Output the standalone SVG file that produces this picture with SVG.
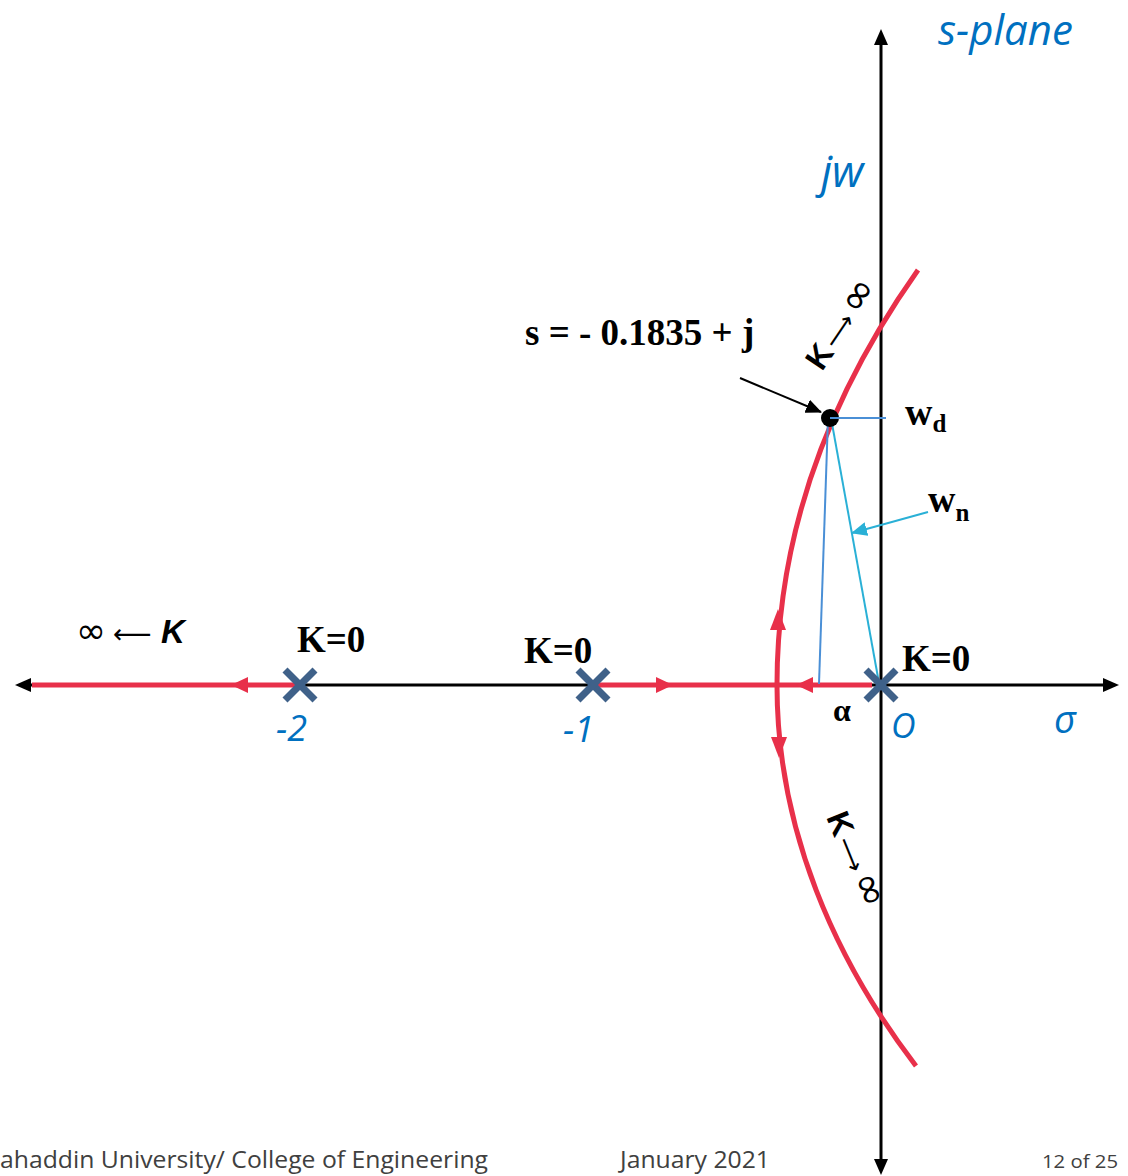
<svg xmlns="http://www.w3.org/2000/svg" width="1128" height="1176" viewBox="0 0 1128 1176">
<style>
.axis{stroke:#000;stroke-width:3;fill:none}
.locus{stroke:#e8304a;stroke-width:5;fill:none}
.rhead{fill:#e8304a}
.pole{stroke:#3f6189;stroke-width:7;stroke-linecap:butt}
.tnr{font-family:"Liberation Serif",serif;font-weight:bold;fill:#000}
.blue{font-family:"Open Sans","Noto Sans",sans-serif;font-style:italic;fill:#0070c0}
.foot{font-family:"Open Sans","Noto Sans",sans-serif;fill:#404040}
.sym{font-family:"DejaVu Sans",sans-serif;fill:#000}
.kb{font-family:"Liberation Sans",sans-serif;font-weight:bold}
.bl1{stroke:#4a8fd6;stroke-width:2;fill:none}
.bl2{stroke:#2ab0d6;stroke-width:2;fill:none}
</style>
<defs>
<marker id="ahBig" markerWidth="16" markerHeight="14" refX="15" refY="7" orient="auto" markerUnits="userSpaceOnUse" viewBox="0 0 16 14">
<path d="M0,0 L16,7 L0,14 z" fill="#000"/>
</marker>
<marker id="ahCyan" markerWidth="16" markerHeight="14" refX="15" refY="7" orient="auto" markerUnits="userSpaceOnUse" viewBox="0 0 16 14">
<path d="M0,0 L16,7 L0,14 z" fill="#2ab0d6"/>
</marker>
</defs>
<rect width="1128" height="1176" fill="#fff"/>
<g id="connectors">
<line class="axis" x1="30" y1="685" x2="1104" y2="685"/>
<polygon points="15,685 31,678 31,692" fill="#000"/>
<polygon points="1119,685 1103,678 1103,692" fill="#000"/>
<line class="axis" x1="881" y1="44" x2="881" y2="1160"/>
<polygon points="881,29 874,45 888,45" fill="#000"/>
<polygon points="881,1175 874,1159 888,1159" fill="#000"/>
<line class="locus" x1="32" y1="685" x2="300" y2="685"/>
<polygon class="rhead" points="231,685 248,677 248,693"/>
<line class="locus" x1="593" y1="685" x2="872" y2="685"/>
<polygon class="rhead" points="673,685 656,677 656,693"/>
<polygon class="rhead" points="796,685 813,677 813,693"/>
<path class="locus" d="M918,270 C840,380 777,520 777,685 C777,830 835,960 916,1066"/>
<polygon class="rhead" points="778,609 770,630 786,630"/>
<polygon class="rhead" points="779,758 771,737 787,737"/>
<line x1="740" y1="378" x2="821" y2="412" stroke="#000" stroke-width="2" marker-end="url(#ahBig)"/>
<line class="bl1" x1="830" y1="418" x2="886" y2="418"/>
<line class="bl1" x1="828" y1="418" x2="819" y2="684"/>
<line class="bl2" x1="831" y1="418" x2="879" y2="683"/>
<line class="bl2" x1="928" y1="512" x2="852" y2="533" marker-end="url(#ahCyan)"/>
</g>
<g id="pole-m2"><line class="pole" x1="285" y1="670" x2="315" y2="700"/><line class="pole" x1="315" y1="670" x2="285" y2="700"/></g>
<g id="pole-m1"><line class="pole" x1="578" y1="670" x2="608" y2="700"/><line class="pole" x1="608" y1="670" x2="578" y2="700"/></g>
<g id="pole-0"><line class="pole" x1="866" y1="670" x2="896" y2="700"/><line class="pole" x1="896" y1="670" x2="866" y2="700"/></g>
<g id="point-s"><circle cx="830" cy="418" r="9" fill="#000"/><line class="bl1" x1="830" y1="418" x2="845" y2="418"/></g>
<g id="labels">
<text class="blue" x="938" y="45" font-size="42">s-plane</text>
<text class="blue" x="821" y="187" font-size="44">jw</text>
<text class="blue" x="1054" y="733" font-size="38">σ</text>
<text class="blue" x="891" y="738" font-size="34">O</text>
<text class="blue" x="276" y="741" font-size="36">-2</text>
<text class="blue" x="563" y="742" font-size="36">-1</text>
<text class="tnr" x="297" y="652" font-size="37">K=0</text>
<text class="tnr" x="524" y="663" font-size="37">K=0</text>
<text class="tnr" x="902" y="671" font-size="37">K=0</text>
<text class="tnr" x="833" y="721" font-size="32">α</text>
<text class="tnr" x="525" y="345" font-size="37">s = - 0.1835 + j</text>
<text class="tnr" x="905" y="425" font-size="38">w<tspan font-size="25" dy="7">d</tspan></text>
<text class="tnr" x="928" y="512" font-size="38">w<tspan font-size="25" dy="9">n</tspan></text>
<text class="sym" y="643"><tspan x="76" font-size="36">∞</tspan><tspan x="113" font-size="27">⟵</tspan><tspan class="kb" x="161" font-style="italic" font-size="33">K</tspan></text>
<text class="sym" transform="translate(822,372) rotate(-56)"><tspan class="kb" x="0" font-size="32">K</tspan><tspan x="26" font-size="25">⟶</tspan><tspan x="66" font-size="42">∞</tspan></text>
<text class="sym" transform="translate(826,817) rotate(68)"><tspan class="kb" x="0" font-size="32">K</tspan><tspan x="26" font-size="25">⟶</tspan><tspan x="66" font-size="42">∞</tspan></text>
<text class="foot" x="0" y="1168" font-size="24" textLength="488" lengthAdjust="spacingAndGlyphs">ahaddin University/ College of Engineering</text>
<text class="foot" x="620" y="1168" font-size="24" textLength="150" lengthAdjust="spacingAndGlyphs">January 2021</text>
<text class="foot" x="1042" y="1168" font-size="19" textLength="76" lengthAdjust="spacingAndGlyphs">12 of 25</text>
</g>
</svg>
